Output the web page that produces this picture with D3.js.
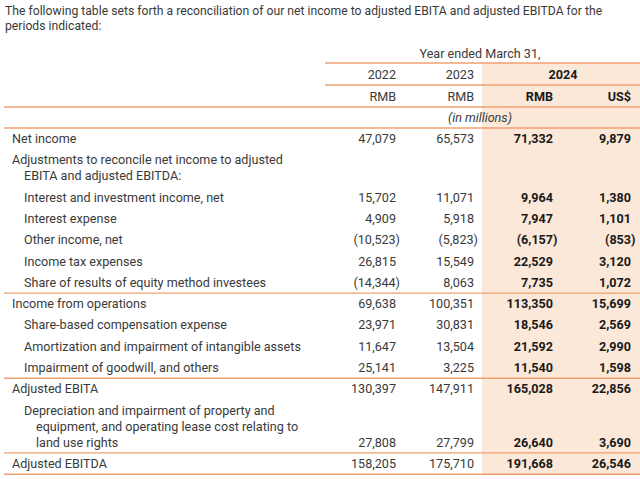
<!DOCTYPE html>
<html><head><meta charset="utf-8">
<script src="https://cdn.jsdelivr.net/npm/d3@7"></script>
<style>
html,body{margin:0;padding:0;background:#fff;}
svg{display:block;font-family:Roboto, "Noto Sans", sans-serif;}
</style></head>
<body>
<script>
// ---------- data ----------
const introLines = [
  "The following table sets forth a reconciliation of our net income to adjusted EBITA and adjusted EBITDA for the",
  "periods indicated:"
];
const periodTitle = "Year ended March 31,";
const yearLabels = ["2022", "2023", "2024"];
const currencyLabels = ["RMB", "RMB", "RMB", "US$"];
const unitNote = "(in millions)";

const rowLabels = [
  ["Net income"],
  ["Adjustments to reconcile net income to adjusted", "EBITA and adjusted EBITDA:"],
  ["Interest and investment income, net"],
  ["Interest expense"],
  ["Other income, net"],
  ["Income tax expenses"],
  ["Share of results of equity method investees"],
  ["Income from operations"],
  ["Share-based compensation expense"],
  ["Amortization and impairment of intangible assets"],
  ["Impairment of goodwill, and others"],
  ["Adjusted EBITA"],
  ["Depreciation and impairment of property and", "equipment, and operating lease cost relating to", "land use rights"],
  ["Adjusted EBITDA"]
];
const rowLevels = [0, 0, 1, 1, 1, 1, 1, 0, 1, 1, 1, 0, 1, 0];
const rowRuleBelow = [false, false, false, false, false, false, true, false, false, false, true, false, true, true];

const rmb2022 = [47079, null, 15702, 4909, -10523, 26815, -14344, 69638, 23971, 11647, 25141, 130397, 27808, 158205];
const rmb2023 = [65573, null, 11071, 5918, -5823, 15549, 8063, 100351, 30831, 13504, 3225, 147911, 27799, 175710];
const rmb2024 = [71332, null, 9964, 7947, -6157, 22529, 7735, 113350, 18546, 21592, 11540, 165028, 26640, 191668];
const usd2024 = [9879, null, 1380, 1101, -853, 3120, 1072, 15699, 2569, 2990, 1598, 22856, 3690, 26546];

// ---------- layout ----------
const W = 640, H = 479;
const textColor = "#3a3a3a", boldColor = "#1a1a1a";
const ruleColor = "#f0a070", shade = "#fce8d8";
const fs = 12.6;

const columns = [
  {key: "c2022", values: rmb2022, bold: false},
  {key: "c2023", values: rmb2023, bold: false},
  {key: "r2024", values: rmb2024, bold: true},
  {key: "u2024", values: usd2024, bold: true}
];
// right edges of the number columns
const xCol = d3.scaleOrdinal().domain(columns.map(c => c.key)).range([396, 474, 553, 631]);
const shadeX0 = 482, headX0 = 325, fullX0 = 4;

const rowH = 21.3, lineH = 16;
const bodyTop = 128;
const rowTops = [];
let acc = bodyTop;
rowLabels.forEach((lines, i) => { rowTops.push(acc); acc += rowH + (lines.length - 1) * lineH; });
const bodyBottom = acc;

const fmtN = d3.format(",");
const fmt = v => v == null ? "" : (v < 0 ? "(" + fmtN(-v) + ")" : fmtN(v));

const svg = d3.select("body").append("svg").attr("width", W).attr("height", H);

// shaded 2024 band
svg.append("rect").attr("x", shadeX0).attr("y", 63).attr("width", W - shadeX0).attr("height", bodyBottom - 63).attr("fill", shade);

// intro text
svg.selectAll("text.intro").data(introLines).join("text")
  .attr("class", "intro")
  .attr("x", 5).attr("y", (d, i) => 14.5 + i * 15.5)
  .attr("font-size", 12.2).attr("fill", textColor).text(d => d);

// header
const hdr = svg.append("g").attr("font-size", fs).attr("fill", textColor);
hdr.append("text").attr("x", 480).attr("y", 57.5).attr("text-anchor", "middle").text(periodTitle);
hdr.append("text").attr("x", xCol("c2022")).attr("y", 78.5).attr("text-anchor", "end").text(yearLabels[0]);
hdr.append("text").attr("x", xCol("c2023")).attr("y", 78.5).attr("text-anchor", "end").text(yearLabels[1]);
hdr.append("text").attr("x", (shadeX0 + W) / 2 + 2).attr("y", 78.5).attr("text-anchor", "middle")
  .attr("font-weight", "bold").attr("fill", boldColor).text(yearLabels[2]);
columns.forEach((c, i) => {
  hdr.append("text").attr("x", xCol(c.key)).attr("y", 100.5).attr("text-anchor", "end")
    .attr("font-weight", c.bold ? "bold" : null).attr("fill", c.bold ? boldColor : textColor)
    .text(currencyLabels[i]);
});
hdr.append("text").attr("x", 480).attr("y", 121.5).attr("text-anchor", "middle")
  .attr("font-style", "italic").text(unitNote);

// rules
const rules = [
  {x0: headX0, y: 63}, {x0: headX0, y: 85}, {x0: fullX0, y: 107}, {x0: fullX0, y: 128}
];
rowLabels.forEach((l, i) => { if (rowRuleBelow[i]) rules.push({x0: fullX0, y: rowTops[i + 1] !== undefined ? rowTops[i + 1] : bodyBottom}); });
svg.selectAll("line.rule").data(rules).join("line").attr("class", "rule")
  .attr("x1", d => d.x0).attr("x2", W).attr("y1", d => d.y).attr("y2", d => d.y)
  .attr("stroke", ruleColor).attr("stroke-width", 1.4);

// body rows
const rows = svg.selectAll("g.row").data(rowLabels.map((lines, i) => ({lines, i})))
  .join("g").attr("class", "row")
  .attr("transform", d => `translate(0,${rowTops[d.i]})`)
  .attr("font-size", fs);

rows.each(function(d) {
  const g = d3.select(this);
  const baseX = rowLevels[d.i] === 0 ? 12 : 24;
  d.lines.forEach((t, j) => {
    g.append("text").attr("x", baseX + (j > 0 ? 12 : 0)).attr("y", 15 + j * lineH)
      .attr("fill", textColor).text(t);
  });
  const vy = 15 + (d.lines.length - 1) * lineH;
  columns.forEach(c => {
    const v = c.values[d.i];
    if (v == null) return;
    g.append("text")
      .attr("x", xCol(c.key) + (v < 0 ? (c.bold ? 4.5 : 4) : 0))
      .attr("y", vy).attr("text-anchor", "end")
      .attr("font-weight", c.bold ? "bold" : null)
      .attr("fill", c.bold ? boldColor : textColor)
      .text(fmt(v));
  });
});
</script>
</body></html>
